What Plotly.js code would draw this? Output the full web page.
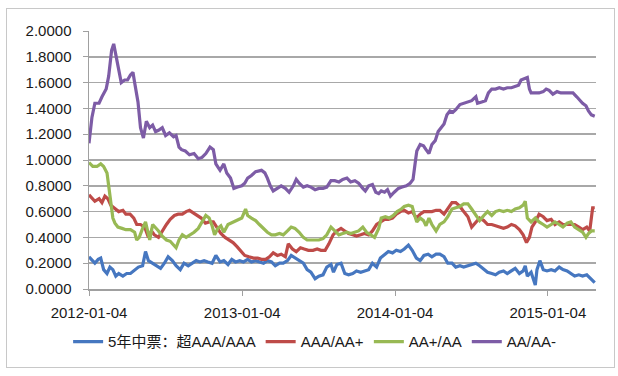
<!DOCTYPE html>
<html>
<head>
<meta charset="utf-8">
<script src="https://cdn.plot.ly/plotly-3.0.1.min.js"></script>
<style>
html,body{margin:0;padding:0;background:#fff;}
#frame{position:absolute;left:6px;top:8px;width:607px;height:358px;border:1px solid #c8c8c8;}
#chart{position:absolute;left:0;top:0;width:618px;height:376px;}
</style>
</head>
<body>
<div id="frame"></div>
<div id="chart"></div>
<script>
// Day offsets from 2012-01-04 and values
const baseDate = '2012-01-04';
const seriesNames = ['5年中票：超AAA/AAA', 'AAA/AA+', 'AA+/AA', 'AA/AA-'];
const tickVals = ['2012-01-04', '2013-01-04', '2014-01-04', '2015-01-04'];
const tickText = ['2012-01-04', '2013-01-04', '2014-01-04', '2015-01-04'];

const blueDays = [0,7,14,22,28,35,43,50,57,64,71,81,90,99,109,118,128,135,142,152,161,171,180,189,199,208,218,227,237,246,256,265,275,284,294,303,313,322,332,341,350,360,369,379,388,398,407,417,426,436,445,455,464,474,483,492,502,512,521,530,540,549,559,568,578,584,592,602,611,620,630,639,649,658,668,677,687,696,706,715,725,734,744,753,763,772,782,791,800,810,819,829,838,848,857,867,876,886,895,905,914,924,933,943,952,962,971,980,990,999,1009,1018,1028,1037,1042,1047,1056,1066,1070,1077,1085,1094,1104,1113,1123,1132,1142,1151,1160,1170,1179,1189,1198,1208];
const blueVals = [0.25,0.22,0.20,0.23,0.24,0.15,0.12,0.17,0.15,0.10,0.12,0.10,0.12,0.12,0.15,0.17,0.18,0.29,0.22,0.20,0.18,0.16,0.20,0.25,0.22,0.18,0.15,0.20,0.18,0.20,0.22,0.21,0.22,0.21,0.20,0.26,0.21,0.22,0.19,0.23,0.21,0.22,0.21,0.23,0.21,0.22,0.21,0.20,0.22,0.21,0.18,0.20,0.20,0.22,0.26,0.24,0.22,0.20,0.15,0.13,0.08,0.10,0.11,0.17,0.19,0.13,0.19,0.20,0.12,0.11,0.12,0.14,0.13,0.14,0.15,0.20,0.17,0.24,0.27,0.29,0.28,0.30,0.29,0.31,0.34,0.30,0.24,0.22,0.26,0.27,0.25,0.27,0.27,0.25,0.20,0.20,0.17,0.18,0.17,0.18,0.19,0.20,0.18,0.15,0.13,0.12,0.11,0.13,0.14,0.12,0.14,0.16,0.12,0.14,0.18,0.10,0.13,0.03,0.15,0.22,0.15,0.14,0.15,0.14,0.17,0.15,0.14,0.12,0.10,0.11,0.10,0.11,0.08,0.05];

const redDays = [0,7,14,24,31,38,45,52,62,71,81,88,98,107,114,123,133,142,149,156,166,175,185,194,204,213,223,232,240,249,259,268,278,287,297,306,315,325,334,344,353,363,372,382,393,403,412,422,431,440,450,459,469,476,486,495,505,514,524,535,545,554,564,573,583,592,602,611,620,630,639,649,658,668,677,687,696,706,715,725,734,744,753,763,772,782,791,800,810,819,829,838,848,857,867,876,886,895,905,914,924,933,943,952,962,971,980,990,999,1009,1018,1028,1037,1045,1052,1058,1066,1075,1085,1094,1104,1113,1123,1132,1142,1151,1160,1170,1179,1189,1196,1203,1208];
const redVals = [0.73,0.70,0.68,0.70,0.67,0.72,0.70,0.65,0.62,0.60,0.61,0.58,0.58,0.55,0.50,0.50,0.48,0.40,0.45,0.42,0.40,0.45,0.50,0.54,0.57,0.58,0.58,0.60,0.61,0.59,0.57,0.55,0.51,0.52,0.52,0.48,0.43,0.40,0.38,0.36,0.33,0.29,0.26,0.25,0.24,0.24,0.23,0.23,0.25,0.28,0.26,0.27,0.25,0.35,0.31,0.29,0.32,0.31,0.30,0.30,0.31,0.30,0.30,0.35,0.42,0.45,0.47,0.45,0.43,0.42,0.41,0.42,0.43,0.42,0.45,0.50,0.52,0.54,0.54,0.55,0.58,0.60,0.61,0.59,0.60,0.55,0.58,0.60,0.60,0.60,0.61,0.61,0.58,0.62,0.67,0.67,0.64,0.60,0.56,0.48,0.52,0.55,0.53,0.50,0.50,0.49,0.48,0.47,0.48,0.50,0.49,0.46,0.42,0.36,0.40,0.48,0.52,0.58,0.56,0.53,0.54,0.50,0.52,0.50,0.50,0.50,0.50,0.48,0.46,0.48,0.45,0.63,0.63];

const greenDays = [0,9,19,28,35,43,47,52,57,62,69,79,88,99,109,114,120,128,135,140,145,152,158,166,175,185,194,204,208,215,223,232,242,251,261,270,279,287,294,300,308,315,322,332,346,355,365,374,379,388,398,407,417,426,436,445,455,464,474,483,492,502,512,521,535,549,559,568,578,587,597,606,616,625,635,644,654,663,673,682,692,698,708,717,727,736,746,753,763,772,777,783,791,799,805,812,819,829,838,848,857,867,876,886,895,905,914,924,933,943,952,962,971,980,990,999,1009,1018,1028,1037,1042,1047,1056,1066,1075,1085,1094,1104,1113,1123,1132,1142,1151,1160,1170,1179,1187,1193,1200,1208];
const greenVals = [0.98,0.95,0.95,0.97,0.95,0.90,0.80,0.65,0.55,0.51,0.48,0.47,0.46,0.46,0.44,0.38,0.40,0.47,0.52,0.45,0.38,0.50,0.48,0.45,0.41,0.38,0.37,0.34,0.32,0.38,0.42,0.40,0.42,0.44,0.47,0.52,0.57,0.55,0.49,0.42,0.47,0.49,0.44,0.50,0.52,0.53,0.55,0.62,0.57,0.55,0.53,0.50,0.47,0.44,0.42,0.42,0.43,0.42,0.45,0.48,0.47,0.44,0.40,0.38,0.38,0.38,0.39,0.42,0.48,0.45,0.42,0.43,0.44,0.43,0.44,0.45,0.48,0.44,0.42,0.40,0.47,0.55,0.56,0.55,0.57,0.60,0.62,0.64,0.65,0.64,0.58,0.52,0.55,0.53,0.49,0.55,0.50,0.45,0.50,0.52,0.56,0.62,0.63,0.64,0.66,0.66,0.62,0.57,0.53,0.57,0.60,0.57,0.60,0.61,0.60,0.61,0.60,0.62,0.63,0.65,0.68,0.55,0.52,0.55,0.52,0.50,0.48,0.50,0.52,0.50,0.48,0.51,0.52,0.48,0.46,0.44,0.40,0.43,0.45,0.45];

const purpleDays = [0,7,14,24,31,41,47,54,59,64,71,77,85,92,99,105,109,117,123,130,137,145,152,159,166,175,183,192,202,208,215,221,230,240,251,261,270,279,289,297,303,313,322,329,338,346,355,365,372,379,388,398,412,420,426,433,440,450,459,469,478,488,495,502,512,521,530,540,549,559,568,578,587,597,606,616,625,635,644,654,660,668,677,685,692,698,706,713,720,729,739,748,758,767,774,780,783,791,799,805,812,819,827,834,840,848,855,862,869,876,886,895,905,914,924,928,938,947,954,962,971,980,990,999,1009,1018,1026,1032,1039,1047,1052,1056,1066,1075,1085,1092,1099,1108,1118,1127,1137,1146,1156,1165,1172,1179,1187,1193,1200,1208];
const purpleVals = [1.13,1.33,1.44,1.44,1.49,1.55,1.65,1.85,1.90,1.82,1.70,1.60,1.62,1.62,1.66,1.68,1.60,1.45,1.25,1.17,1.30,1.25,1.27,1.22,1.23,1.25,1.19,1.21,1.18,1.19,1.10,1.08,1.07,1.04,1.05,1.01,1.02,1.05,1.10,1.08,0.97,0.92,0.97,0.90,0.86,0.78,0.79,0.80,0.82,0.86,0.88,0.91,0.92,0.90,0.86,0.80,0.76,0.78,0.80,0.78,0.75,0.80,0.85,0.82,0.79,0.80,0.79,0.77,0.78,0.78,0.79,0.84,0.84,0.83,0.85,0.86,0.83,0.84,0.82,0.78,0.76,0.80,0.81,0.75,0.74,0.76,0.75,0.77,0.72,0.75,0.78,0.79,0.80,0.82,0.85,1.00,1.07,1.12,1.11,1.08,1.05,1.12,1.15,1.22,1.25,1.28,1.35,1.38,1.37,1.39,1.43,1.44,1.45,1.46,1.49,1.44,1.45,1.46,1.52,1.55,1.55,1.56,1.55,1.56,1.56,1.57,1.58,1.62,1.63,1.64,1.55,1.52,1.52,1.52,1.53,1.55,1.54,1.51,1.53,1.52,1.52,1.52,1.52,1.49,1.46,1.44,1.42,1.38,1.35,1.34];

const colors = ['#4677C0', '#BE4B48', '#98B954', '#7D5CA6'];

function toDates(days) {
  const b = new Date(baseDate + 'T00:00:00Z').getTime();
  return days.map(d => new Date(b + d * 86400000).toISOString().slice(0, 10));
}

const allDays = [blueDays, redDays, greenDays, purpleDays];
const allVals = [blueVals, redVals, greenVals, purpleVals];

const traces = allDays.map((d, i) => ({
  x: toDates(d),
  y: allVals[i],
  type: 'scatter',
  mode: 'lines',
  name: seriesNames[i],
  line: {color: colors[i], width: 3.2, shape: 'linear'}
}));

const FONT = 'Liberation Sans, Arial, Noto Sans CJK SC, sans-serif';

const layout = {
  width: 618, height: 376,
  paper_bgcolor: 'rgba(0,0,0,0)',
  plot_bgcolor: 'rgba(0,0,0,0)',
  margin: {l: 89, r: 22, t: 31, b: 87},
  showlegend: true,
  font: {family: FONT, size: 15, color: '#1a1a1a'},
  xaxis: {
    type: 'date',
    range: ['2012-01-04', '2015-04-29'],
    tickvals: tickVals,
    ticktext: tickText,
    showgrid: false,
    showline: true, linecolor: '#a0a0a0', linewidth: 1.5,
    ticks: 'outside', ticklen: 5, tickcolor: '#a0a0a0', tickwidth: 1,
    ticklabelstandoff: 4,
    tickfont: {family: FONT, size: 15, color: '#1a1a1a'},
    zeroline: false
  },
  yaxis: {
    range: [0, 2],
    dtick: 0.2, tick0: 0,
    tickformat: '.4f',
    showgrid: true, gridcolor: '#a8a8a8', gridwidth: 1.5,
    showline: true, linecolor: '#a0a0a0', linewidth: 1.5,
    ticks: 'outside', ticklen: 5, tickcolor: '#a0a0a0',
    ticklabelstandoff: 8,
    tickfont: {family: FONT, size: 15, color: '#1a1a1a'},
    zeroline: false
  },
  legend: {
    orientation: 'h',
    x: 0.445, xanchor: 'center',
    y: -0.205, yanchor: 'middle',
    font: {family: FONT, size: 15, color: '#1a1a1a'},
    itemwidth: 30,
    tracegroupgap: 0,
    bgcolor: 'rgba(0,0,0,0)'
  }
};

Plotly.newPlot('chart', traces, layout, {staticPlot: true, displayModeBar: false});
</script>
</body>
</html>
